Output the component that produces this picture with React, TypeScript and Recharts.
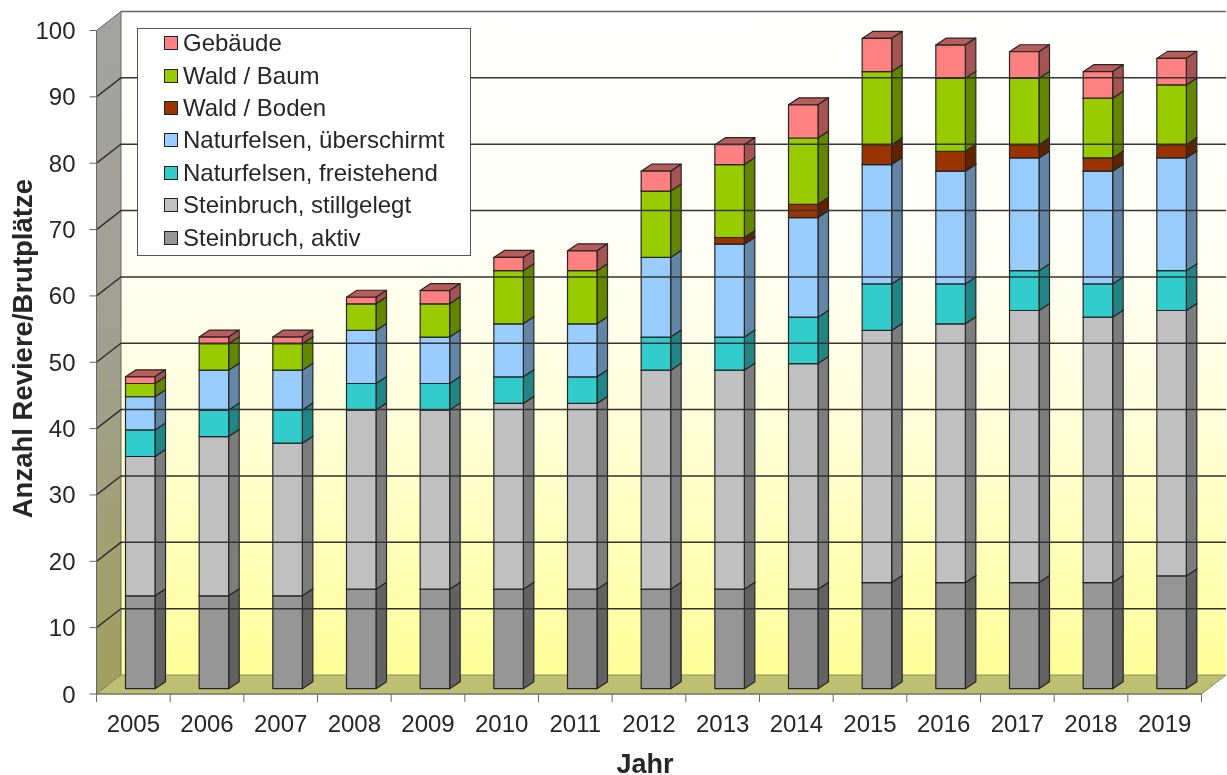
import { Bar, BarChart, Legend, ReferenceArea, ReferenceLine, XAxis, YAxis } from "recharts";

const years = ["2005", "2006", "2007", "2008", "2009", "2010", "2011", "2012", "2013", "2014", "2015", "2016", "2017", "2018", "2019"];
const aktiv = [14, 14, 14, 15, 15, 15, 15, 15, 15, 15, 16, 16, 16, 16, 17];
const stillgelegt = [21, 24, 23, 27, 27, 28, 28, 33, 33, 34, 38, 39, 41, 40, 40];
const freistehend = [4, 4, 5, 4, 4, 4, 4, 5, 5, 7, 7, 6, 6, 5, 6];
const ueberschirmt = [5, 6, 6, 8, 7, 8, 8, 12, 14, 15, 18, 17, 17, 17, 17];
const boden = [0, 0, 0, 0, 0, 0, 0, 0, 1, 2, 3, 3, 2, 2, 2];
const baum = [2, 4, 4, 4, 5, 8, 8, 10, 11, 10, 11, 11, 10, 9, 9];
const gebaeude = [1, 1, 1, 1, 2, 2, 3, 3, 3, 5, 5, 5, 4, 4, 4];
const yTicks = [0, 10, 20, 30, 40, 50, 60, 70, 80, 90, 100];
const gridValues = [10, 20, 30, 40, 50, 60, 70, 80, 90];

const data = years.map((year, i) => ({
  year,
  aktiv: aktiv[i],
  stillgelegt: stillgelegt[i],
  freistehend: freistehend[i],
  ueberschirmt: ueberschirmt[i],
  boden: boden[i],
  baum: baum[i],
  gebaeude: gebaeude[i],
}));

const FONT = "'Liberation Sans', Arial, sans-serif";
const TEXT = "#262626";
const AXIS = "#666666";
const PLOT_W = 1105;
// depth of the fake 3D box behind the axes
const WALL_X = 24.5;
const WALL_Y = -19;
// bars sit a bit inside the floor and have their own small depth
const BAR_X = 7;
const BAR_Y = -5.3;
const DEPTH_X = 10.5;
const DEPTH_Y = -7;

function shade(hex: string, f: number) {
  const n = parseInt(hex.slice(1), 16);
  const c = [(n >> 16) & 255, (n >> 8) & 255, n & 255].map((v) => Math.round(v * f));
  return `rgb(${c[0]},${c[1]},${c[2]})`;
}

function pts(list: number[][]) {
  return list.map((p) => p.join(",")).join(" ");
}

function Box3D(props: any) {
  const { x, y, width: w, height: h, fill } = props;
  if (!h || h <= 0) return null;
  const l = x + BAR_X;
  const r = l + w;
  const t = y + BAR_Y;
  const b = t + h;
  const edge = { stroke: "#262626", strokeWidth: 1.2, strokeLinejoin: "round" as const };
  return (
    <g>
      <polygon points={pts([[l, t], [l + DEPTH_X, t + DEPTH_Y], [r + DEPTH_X, t + DEPTH_Y], [r, t]])} fill={shade(fill, 0.72)} {...edge} />
      <polygon points={pts([[r, t], [r + DEPTH_X, t + DEPTH_Y], [r + DEPTH_X, b + DEPTH_Y], [r, b]])} fill={shade(fill, 0.65)} {...edge} />
      <rect x={l} y={t} width={w} height={h} fill={fill} {...edge} />
    </g>
  );
}

function Walls(props: any) {
  const { x, y, width, height } = props;
  const b = y + height;
  const r = x + width;
  return (
    <g>
      <polygon points={pts([[x + WALL_X, y + WALL_Y], [r + WALL_X, y + WALL_Y], [r + WALL_X, b + WALL_Y], [x + WALL_X, b + WALL_Y]])} fill="url(#wallFill)" />
      <line x1={x + WALL_X} y1={y + WALL_Y} x2={r + WALL_X} y2={y + WALL_Y} stroke={AXIS} strokeWidth={1.3} />
      <polygon points={pts([[x, y], [x + WALL_X, y + WALL_Y], [x + WALL_X, b + WALL_Y], [x, b]])} fill="url(#sideFill)" stroke={AXIS} strokeWidth={1} />
      <polygon points={pts([[x, b], [x + WALL_X, b + WALL_Y], [r + WALL_X, b + WALL_Y], [r, b]])} fill="#bfbf72" stroke="#8f8f66" strokeWidth={1} />
    </g>
  );
}

function GridLine(props: any) {
  const { x1, x2, y1 } = props;
  return (
    <polyline
      points={pts([[x1, y1], [x1 + WALL_X, y1 + WALL_Y], [x2 + WALL_X, y1 + WALL_Y]])}
      fill="none"
      stroke="#333333"
      strokeWidth={1.5}
    />
  );
}

function YearTick(props: any) {
  const { x, y, payload, index } = props;
  const band = PLOT_W / years.length;
  return (
    <g>
      <line x1={x - band / 2} x2={x - band / 2} y1={y - 8} y2={y} stroke={AXIS} />
      {index === years.length - 1 && <line x1={x + band / 2} x2={x + band / 2} y1={y - 8} y2={y} stroke={AXIS} />}
      <text x={x} y={y + 30} textAnchor="middle" fontSize={24} fontFamily={FONT} fill={TEXT}>
        {payload.value}
      </text>
    </g>
  );
}

function LegendBox({ payload }: any) {
  const items = [...(payload ?? [])].reverse();
  return (
    <div style={{ boxSizing: "border-box", width: 334, height: 228, background: "#fff", border: "1px solid #555", fontFamily: FONT, color: TEXT, fontSize: 24 }}>
      {items.map((it: any, i: number) => (
        <div key={it.value} style={{ display: "flex", alignItems: "center", height: 32.4, marginLeft: 26, marginTop: i === 0 ? -2 : 0 }}>
          <span style={{ boxSizing: "border-box", width: 14, height: 14, background: it.color, border: "1.2px solid #222", marginRight: 5 }} />
          <span style={{ whiteSpace: "nowrap" }}>{it.value}</span>
        </div>
      ))}
    </div>
  );
}

export default function App() {
  return (
    <div style={{ position: "absolute", left: 0, top: 0, width: 1227, height: 775, background: "#fff", filter: "blur(0.5px)" }}>
      <BarChart
        width={1227}
        height={775}
        data={data}
        barSize={29.5}
        margin={{ top: 30.5, right: 25.5, bottom: 0, left: 36.5 }}
      >
        <defs>
          <linearGradient id="wallFill" x1="0" y1="0" x2="0" y2="1">
            <stop offset="0%" stopColor="#ffffff" />
            <stop offset="35%" stopColor="#fffff6" />
            <stop offset="60%" stopColor="#ffffdc" />
            <stop offset="100%" stopColor="#ffff99" />
          </linearGradient>
          <linearGradient id="sideFill" x1="0" y1="0" x2="0" y2="1">
            <stop offset="0%" stopColor="#a3a3a3" />
            <stop offset="50%" stopColor="#a0a090" />
            <stop offset="100%" stopColor="#a0a05c" />
          </linearGradient>
        </defs>
        <ReferenceArea y1={0} y2={100} ifOverflow="visible" shape={Walls} />
        {gridValues.map((v) => (
          <ReferenceLine key={v} y={v} ifOverflow="visible" shape={GridLine} />
        ))}
        <XAxis
          dataKey="year"
          height={81}
          interval={0}
          axisLine={{ stroke: AXIS }}
          tickLine={false}
          tick={YearTick}
          label={{ value: "Jahr", position: "insideBottom", offset: 2, dx: -4, fontSize: 27, fontWeight: "bold", fontFamily: FONT, fill: TEXT }}
        />
        <YAxis
          width={60}
          domain={[0, 100]}
          ticks={yTicks}
          interval={0}
          axisLine={{ stroke: AXIS }}
          tickLine={{ stroke: AXIS }}
          tickSize={7}
          tickMargin={14}
          tick={{ fontSize: 24, fontFamily: FONT, fill: TEXT }}
          label={{ value: "Anzahl Reviere/Brutplätze", angle: -90, position: "insideLeft", dx: -19, dy: 156, fontSize: 27.5, fontWeight: "bold", fontFamily: FONT, fill: TEXT }}
        />
        <Legend
          layout="vertical"
          align="center"
          verticalAlign="middle"
          itemSorter={null}
          content={LegendBox}
          wrapperStyle={{ left: 137, top: 28, width: 334, height: 228 }}
        />
        <Bar dataKey="aktiv" name="Steinbruch, aktiv" stackId="a" fill="#969696" shape={Box3D} isAnimationActive={false} />
        <Bar dataKey="stillgelegt" name="Steinbruch, stillgelegt" stackId="a" fill="#c0c0c0" shape={Box3D} isAnimationActive={false} />
        <Bar dataKey="freistehend" name="Naturfelsen, freistehend" stackId="a" fill="#33cccc" shape={Box3D} isAnimationActive={false} />
        <Bar dataKey="ueberschirmt" name="Naturfelsen, überschirmt" stackId="a" fill="#99ccff" shape={Box3D} isAnimationActive={false} />
        <Bar dataKey="boden" name="Wald / Boden" stackId="a" fill="#993300" shape={Box3D} isAnimationActive={false} />
        <Bar dataKey="baum" name="Wald / Baum" stackId="a" fill="#99cc00" shape={Box3D} isAnimationActive={false} />
        <Bar dataKey="gebaeude" name="Gebäude" stackId="a" fill="#ff8080" shape={Box3D} isAnimationActive={false} />
      </BarChart>
    </div>
  );
}
